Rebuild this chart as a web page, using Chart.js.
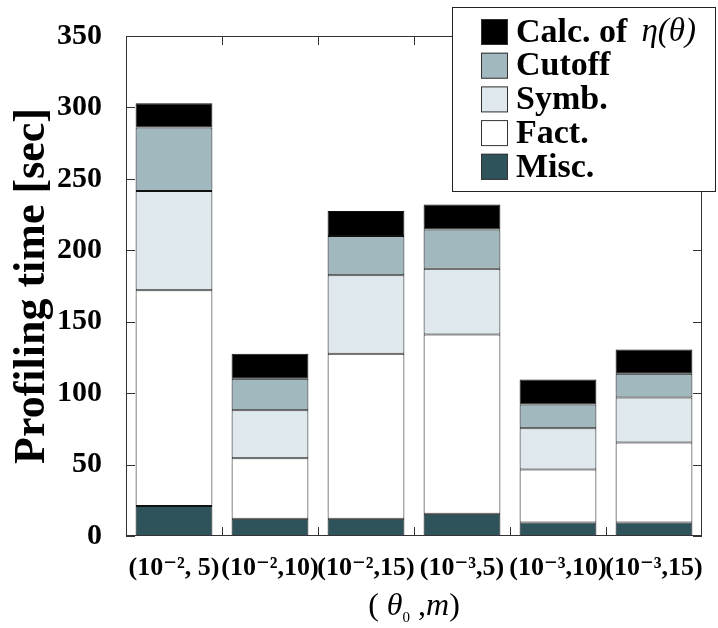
<!DOCTYPE html>
<html>
<head>
<meta charset="utf-8">
<script src="https://cdn.jsdelivr.net/npm/chart.js@4"></script>
<style>
  html, body { margin: 0; padding: 0; background: #fff; }
  #wrap { width: 718px; height: 628px; }
</style>
</head>
<body>
<div id="wrap"><canvas id="barChart"></canvas></div>
<script>
const categories = ['(10\u207B\u00B2, 5)', '(10\u207B\u00B2,10)', '(10\u207B\u00B2,15)', '(10\u207B\u00B3,5)', '(10\u207B\u00B3,10)', '(10\u207B\u00B3,15)'];
const misc = [21, 12, 12, 15.5, 9.5, 9.5];
const fact = [151, 42.5, 115.5, 125.5, 37, 56];
const symb = [69.5, 33.5, 55, 46, 29, 31.5];
const cutoff = [44.5, 22, 27.5, 27.5, 16.5, 16.5];
const calc = [17, 17.5, 17.5, 17.5, 17.5, 17];
const yMax = 350;
const yStep = 50;

const serif = "'Liberation Serif', 'DejaVu Serif', serif";

// frame with inward ticks, like the original plot
const framePlugin = {
    id: 'frame',
    afterDatasetsDraw(chart) {
        const { ctx, chartArea: a, scales: { x, y } } = chart;
        ctx.save();
        ctx.strokeStyle = '#333';
        ctx.lineWidth = 1;
        ctx.strokeRect(a.left + 0.5, a.top + 0.5, a.right - a.left - 1, a.bottom - a.top - 1);
        ctx.beginPath();
        y.ticks.forEach((t, i) => {
            const py = Math.round(y.getPixelForTick(i)) + 0.5;
            ctx.moveTo(a.left, py); ctx.lineTo(a.left + 9, py);
            ctx.moveTo(a.right - 9, py); ctx.lineTo(a.right, py);
        });
        for (let i = 1; i < categories.length; i++) {
            const px = Math.round(x.getPixelForValue(i - 0.5)) + 0.5;
            ctx.moveTo(px, a.top); ctx.lineTo(px, a.top + 9);
            ctx.moveTo(px, a.bottom - 9); ctx.lineTo(px, a.bottom);
        }
        ctx.stroke();
        ctx.restore();
    },
    afterDraw(chart) {
        const { ctx, chartArea: a } = chart;
        ctx.save();
        // legend box
        const box = { left: 452, top: 7, right: 716, bottom: 192 };
        ctx.fillStyle = '#fff';
        ctx.fillRect(box.left, box.top, box.right - box.left, box.bottom - box.top);
        ctx.strokeStyle = '#222';
        ctx.lineWidth = 1;
        ctx.strokeRect(box.left + 0.5, box.top + 0.5, box.right - box.left - 1, box.bottom - box.top - 1);
        const sets = chart.data.datasets.slice().reverse();
        sets.forEach((ds, k) => {
            const y0 = 19 + k * 33.7;
            ctx.fillStyle = ds.backgroundColor;
            ctx.fillRect(481, y0, 27, 26);
            ctx.strokeStyle = '#333';
            ctx.strokeRect(481.5, y0 + 0.5, 26, 25);
            ctx.fillStyle = '#000';
            ctx.textBaseline = 'middle';
            ctx.textAlign = 'left';
            const cut = ds.label.indexOf(' \u03B7');
            const main = cut >= 0 ? ds.label.slice(0, cut) : ds.label;
            ctx.font = 'bold 34px ' + serif;
            ctx.fillText(main, 516, y0 + 14);
            if (cut >= 0) {
                const w = ctx.measureText(main).width;
                ctx.font = 'italic 33px ' + serif;
                ctx.fillText(ds.label.slice(cut + 1), 516 + w + 14, y0 + 13);
            }
        });
        // x axis title ( θ0 ,m)
        const parts = [
            ['(', 'normal 32px ', 0],
            [' \u03B8', 'italic 32px ', 0],
            ['0', 'normal 15px ', 7],
            [' ,', 'normal 32px ', 0],
            ['m', 'italic 32px ', 0],
            [')', 'normal 32px ', 0]
        ];
        let total = 0;
        parts.forEach(p => { ctx.font = p[1] + serif; total += ctx.measureText(p[0]).width; });
        let cx = (a.left + a.right) / 2 - total / 2;
        ctx.fillStyle = '#000';
        ctx.textBaseline = 'alphabetic';
        parts.forEach(p => {
            ctx.font = p[1] + serif;
            ctx.fillText(p[0], cx, 615 + p[2]);
            cx += ctx.measureText(p[0]).width;
        });
        ctx.restore();
    }
};

const ctx = document.getElementById('barChart').getContext('2d');

new Chart(ctx, {
    type: 'bar',
    data: {
        labels: categories,
        datasets: [
            { label: 'Misc.', data: misc, backgroundColor: '#2f535a' },
            { label: 'Fact.', data: fact, backgroundColor: '#ffffff' },
            { label: 'Symb.', data: symb, backgroundColor: '#dee8ed' },
            { label: 'Cutoff', data: cutoff, backgroundColor: '#a1b8be' },
            { label: 'Calc. of \u03B7(\u03B8)', data: calc, backgroundColor: '#000000' }
        ]
    },
    options: {
        responsive: true,
        maintainAspectRatio: false,
        animation: false,
        datasets: {
            bar: {
                barPercentage: 1,
                categoryPercentage: 0.8,
                borderWidth: 1,
                borderColor: '#111',
                borderSkipped: false
            }
        },
        layout: {
            padding: { left: 0, top: 36, right: 16, bottom: 0 }
        },
        plugins: {
            legend: { display: false },
            tooltip: { enabled: false }
        },
        scales: {
            x: {
                stacked: true,
                grid: { display: false },
                border: { display: false },
                ticks: {
                    color: '#000',
                    padding: 9,
                    maxRotation: 0,
                    autoSkip: false,
                    font: { family: serif, size: 26, weight: 'bold' }
                },
                afterFit(scale) { scale.height = 92; }
            },
            y: {
                stacked: true,
                min: 0,
                max: yMax,
                grid: { display: false },
                border: { display: false },
                ticks: {
                    stepSize: yStep,
                    color: '#000',
                    padding: 16,
                    font: { family: serif, size: 30, weight: 'bold' }
                },
                title: {
                    display: true,
                    text: 'Profiling time [sec]',
                    color: '#000',
                    padding: { top: 6, bottom: 0 },
                    font: { family: serif, size: 44, weight: 'bold' }
                },
                afterFit(scale) { scale.width = 126; }
            }
        }
    },
    plugins: [framePlugin]
});
</script>
</body>
</html>
